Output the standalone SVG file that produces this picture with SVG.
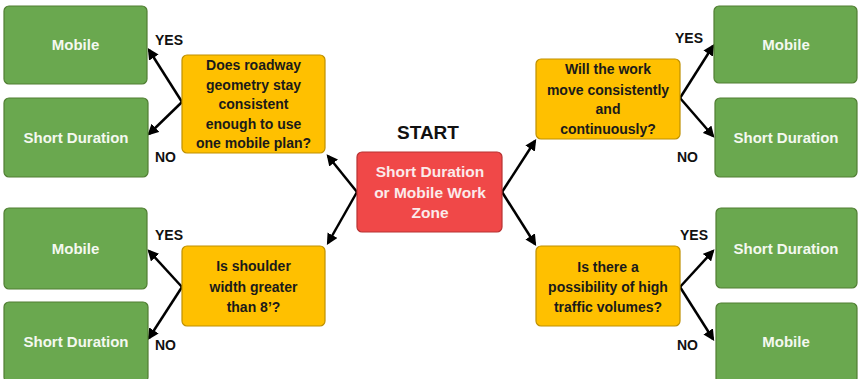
<svg xmlns="http://www.w3.org/2000/svg" width="858" height="379" viewBox="0 0 858 379">
<defs>
<style>
.g{fill:#6aa84f;stroke:#507e32;stroke-width:1.2}
.y{fill:#ffc000;stroke:#bf9000;stroke-width:1.2}
.r{fill:#f04848;stroke:#b83232;stroke-width:1.2}
.wt{font-family:"Liberation Sans",Arial,sans-serif;font-weight:bold;font-size:15px;fill:#f4f8f0;text-anchor:middle}
.rt{font-family:"Liberation Sans",Arial,sans-serif;font-weight:bold;font-size:15.5px;fill:#fbeaea;text-anchor:middle}
.dt{font-family:"Liberation Sans",Arial,sans-serif;font-weight:bold;font-size:14px;fill:#1a1a1a;text-anchor:middle}
.lb{font-family:"Liberation Sans",Arial,sans-serif;font-weight:bold;font-size:14px;fill:#111}
.st{font-family:"Liberation Sans",Arial,sans-serif;font-weight:bold;font-size:19px;fill:#111;text-anchor:middle}
.c{stroke:#000;stroke-width:2.5;fill:none;marker-end:url(#ah)}
</style>
<marker id="ah" viewBox="0 0 10 10" refX="8" refY="5" markerWidth="4.5" markerHeight="4.5" orient="auto" markerUnits="strokeWidth">
<path d="M0,0 L10,5 L0,10 z" fill="#000"/>
</marker>
</defs>
<rect width="858" height="379" fill="#fff"/>

<g id="connectors">
<path class="c" d="M357,192 L328,156"/>
<path class="c" d="M357,192 L328,243"/>
<path class="c" d="M502,192 L535,141"/>
<path class="c" d="M502,192 L535,244"/>
<path class="c" d="M182,102 L149,50"/>
<path class="c" d="M182,102 L149,134"/>
<path class="c" d="M182,287 L149,251"/>
<path class="c" d="M182,287 L149,338"/>
<path class="c" d="M680,98 L713,46"/>
<path class="c" d="M680,98 L713,136"/>
<path class="c" d="M680,287 L713,251"/>
<path class="c" d="M680,287 L713,339"/>
</g>

<g id="labels">
<text class="lb" x="155" y="45">YES</text>
<text class="lb" x="155" y="162">NO</text>
<text class="lb" x="155" y="240">YES</text>
<text class="lb" x="155" y="350">NO</text>
<text class="lb" x="675" y="43">YES</text>
<text class="lb" x="677" y="162">NO</text>
<text class="lb" x="680" y="240">YES</text>
<text class="lb" x="677" y="350">NO</text>
</g>

<g id="start">
<text class="st" x="428" y="139">START</text>
<rect class="r" x="357" y="152" width="145" height="80" rx="5"/>
<text class="rt" x="430" y="177">Short Duration</text>
<text class="rt" x="430" y="198">or Mobile Work</text>
<text class="rt" x="430" y="218">Zone</text>
</g>

<g id="q1">
<rect class="y" x="182" y="55" width="143" height="98" rx="5"/>
<text class="dt" x="253.5" y="70">Does roadway</text>
<text class="dt" x="253.5" y="90">geometry stay</text>
<text class="dt" x="253.5" y="109">consistent</text>
<text class="dt" x="253.5" y="129">enough to use</text>
<text class="dt" x="253.5" y="148">one mobile plan?</text>
</g>

<g id="q3">
<rect class="y" x="182" y="246" width="143" height="80" rx="5"/>
<text class="dt" x="253.5" y="271">Is shoulder</text>
<text class="dt" x="253.5" y="292">width greater</text>
<text class="dt" x="253.5" y="312">than 8’?</text>
</g>

<g id="q2">
<rect class="y" x="536" y="59" width="144" height="80" rx="5"/>
<text class="dt" x="608" y="74">Will the work</text>
<text class="dt" x="608" y="95">move consistently</text>
<text class="dt" x="608" y="114">and</text>
<text class="dt" x="608" y="134">continuously?</text>
</g>

<g id="q4">
<rect class="y" x="536" y="246" width="144" height="80" rx="5"/>
<text class="dt" x="608" y="272">Is there a</text>
<text class="dt" x="608" y="292">possibility of high</text>
<text class="dt" x="608" y="312">traffic volumes?</text>
</g>

<g id="l-mobile1">
<rect class="g" x="4" y="6" width="143" height="78" rx="5"/>
<text class="wt" x="75.5" y="50">Mobile</text>
</g>
<g id="l-short1">
<rect class="g" x="4" y="98" width="144" height="79" rx="5"/>
<text class="wt" x="76" y="143">Short Duration</text>
</g>
<g id="l-mobile2">
<rect class="g" x="4" y="208" width="143" height="81" rx="5"/>
<text class="wt" x="75.5" y="254">Mobile</text>
</g>
<g id="l-short2">
<rect class="g" x="4" y="302" width="144" height="80" rx="5"/>
<text class="wt" x="76" y="347">Short Duration</text>
</g>

<g id="r-mobile1">
<rect class="g" x="714" y="6" width="143" height="77" rx="5"/>
<text class="wt" x="786" y="50">Mobile</text>
</g>
<g id="r-short1">
<rect class="g" x="715" y="98" width="142" height="79" rx="5"/>
<text class="wt" x="786" y="143">Short Duration</text>
</g>
<g id="r-short2">
<rect class="g" x="716" y="208" width="141" height="80" rx="5"/>
<text class="wt" x="786" y="254">Short Duration</text>
</g>
<g id="r-mobile2">
<rect class="g" x="716" y="303" width="141" height="80" rx="5"/>
<text class="wt" x="786" y="347">Mobile</text>
</g>
</svg>
